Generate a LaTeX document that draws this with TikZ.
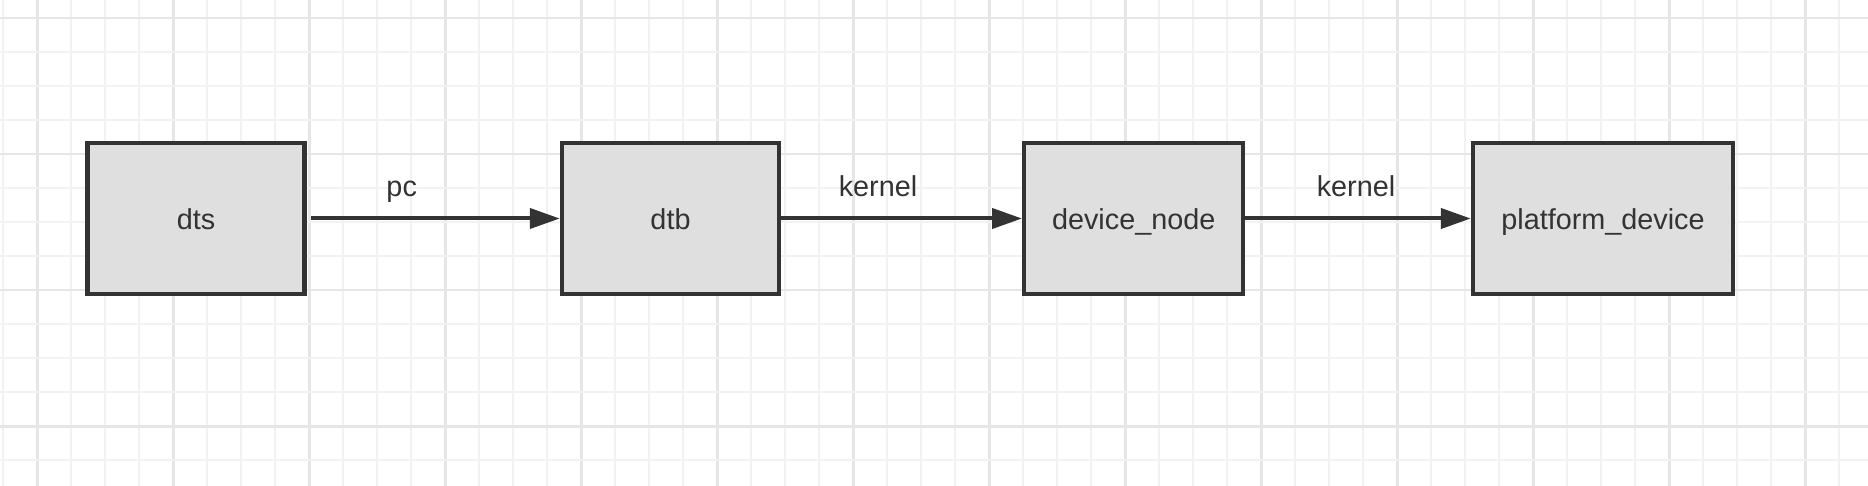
\documentclass[tikz,border=0pt]{standalone}
\usepackage{fontspec}
\setmainfont{Liberation Sans}
\usetikzlibrary{arrows.meta}
\definecolor{gridminor}{HTML}{F2F2F2}
\definecolor{gridmajor}{HTML}{E6E6E6}
\definecolor{boxfill}{HTML}{DFDFDF}
\definecolor{ink}{HTML}{333333}
\tikzset{
  minorline/.style={draw=gridminor, line width=1pt},
  majorline/.style={draw=gridmajor, line width=1.2pt},
  stepbox/.style={draw=ink, fill=boxfill, line width=2.2pt, minimum height=75.5pt,
    text=ink, font=\fontsize{14.4}{17}\selectfont, inner sep=0pt,
    text height=14pt, text depth=2.5pt},
  flow/.style={draw=ink, line width=2pt, -{Triangle[length=15pt,width=10pt]}},
  edgelabel/.style={text=ink, font=\fontsize{14.4}{17}\selectfont, inner sep=0pt, anchor=base},
}
\begin{document}
\begin{tikzpicture}[x=0.5pt,y=-0.5pt]
\useasboundingbox (0,0) rectangle (1868,486);
\fill[white] (0,0) rectangle (1868,486);
% grid
\foreach \i in {0,...,54}{
  \pgfmathtruncatemacro{\m}{mod(\i+3,4)}
  \ifnum\m=0
    \draw[majorline] ({3.3+34*\i},0) -- ({3.3+34*\i},486);
  \else
    \draw[minorline] ({3.3+34*\i},0) -- ({3.3+34*\i},486);
  \fi
}
\foreach \k in {0,...,13}{
  \pgfmathtruncatemacro{\m}{mod(\k,4)}
  \ifnum\m=0
    \draw[majorline] (0,{18.3+34*\k}) -- (1868,{18.3+34*\k});
  \else
    \draw[minorline] (0,{18.3+34*\k}) -- (1868,{18.3+34*\k});
  \fi
}
% boxes
\node[stepbox, minimum width=108.5pt] (dts) at (196,218.5) {dts};
\node[stepbox, minimum width=108.5pt] (dtb) at (670.5,218.5) {dtb};
\node[stepbox, minimum width=109.5pt] (dn) at (1133.7,218.5) {device\_node};
\node[stepbox, minimum width=130pt] (pd) at (1603,218.5) {platform\_device};
% connectors
\draw[flow] ([xshift=2pt]dts.east) -- (dtb.west);
\draw[flow] (dtb.east) -- (dn.west);
\draw[flow] (dn.east) -- (pd.west);
% labels
\node[edgelabel] (l1) at (401.7,197) {pc};
\node[edgelabel] (l2) at (878,197) {kernel};
\node[edgelabel] (l3) at (1356,197) {kernel};
\end{tikzpicture}
\end{document}
